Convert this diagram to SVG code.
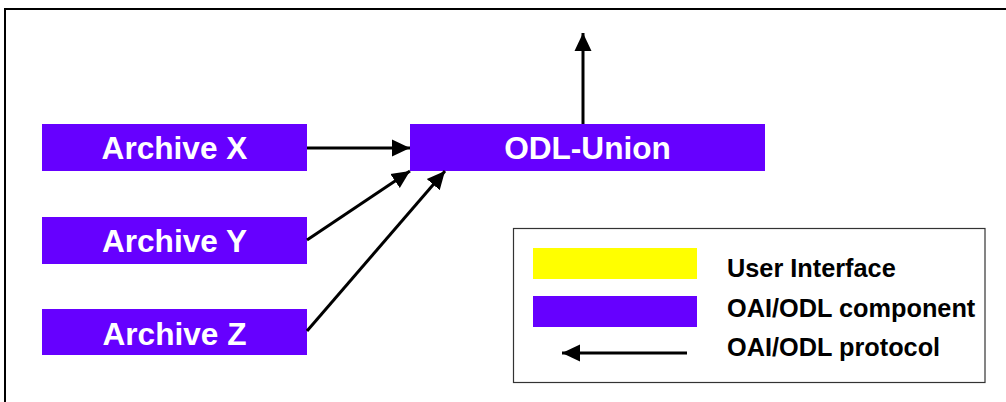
<svg xmlns="http://www.w3.org/2000/svg" width="1006" height="402" viewBox="0 0 1006 402">
  <style>
    .comp { fill: #6600FF; }
    .ui { fill: #FFFF00; }
    .label { font-family: "Liberation Sans", Arial, sans-serif; font-weight: bold; font-size: 31.6px; fill: #FFFFFF; text-anchor: middle; }
    .legend-text { font-family: "Liberation Sans", Arial, sans-serif; font-weight: bold; font-size: 25.3px; fill: #000000; }
    .link { stroke: #000000; stroke-width: 3; fill: none; marker-end: url(#head); }
  </style>
  <defs>
    <marker id="head" markerUnits="userSpaceOnUse" markerWidth="19" markerHeight="19" viewBox="0 0 19 19" refX="18" refY="9.5" orient="auto">
      <path d="M0,1 L18,9.5 L0,18 Z" fill="#000000"/>
    </marker>
  </defs>

  <!-- outer frame -->
  <rect x="5" y="9" width="1100" height="500" fill="none" stroke="#000000" stroke-width="2"/>

  <g id="archive-x">
    <rect class="comp" x="42" y="124" width="265" height="47"/>
    <text class="label" x="174.5" y="158.5">Archive X</text>
  </g>
  <g id="archive-y">
    <rect class="comp" x="42" y="217" width="265" height="47"/>
    <text class="label" x="174.5" y="252">Archive Y</text>
  </g>
  <g id="archive-z">
    <rect class="comp" x="42" y="309" width="265" height="46"/>
    <text class="label" x="174.5" y="344.5">Archive Z</text>
  </g>
  <g id="odl-union">
    <rect class="comp" x="410" y="124" width="355" height="47"/>
    <text class="label" x="587.5" y="159">ODL-Union</text>
  </g>

  <g id="connectors">
    <line class="link" x1="307" y1="148" x2="410" y2="148"/>
    <line class="link" x1="307" y1="240" x2="410" y2="171"/>
    <line class="link" x1="307" y1="331" x2="445" y2="171"/>
    <line class="link" x1="583" y1="124" x2="583" y2="33"/>
  </g>

  <g id="legend">
    <rect x="513.5" y="228.5" width="471.5" height="154" fill="#FFFFFF" stroke="#333333" stroke-width="1.2"/>
    <rect class="ui" x="533" y="248" width="164" height="31"/>
    <rect class="comp" x="533" y="296" width="164" height="31"/>
    <line class="link" x1="687" y1="353" x2="562" y2="353"/>
    <text class="legend-text" x="727" y="277">User Interface</text>
    <text class="legend-text" x="727" y="317">OAI/ODL component</text>
    <text class="legend-text" x="727" y="356">OAI/ODL protocol</text>
  </g>
</svg>
